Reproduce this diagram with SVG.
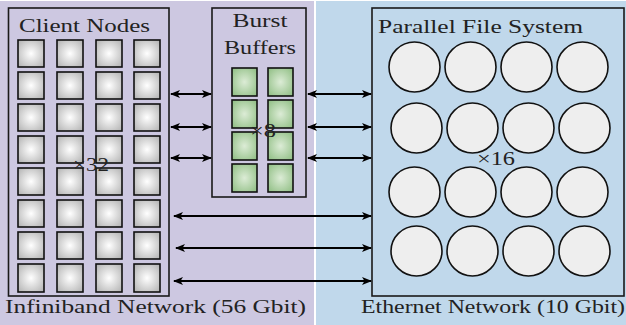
<svg xmlns="http://www.w3.org/2000/svg" width="626" height="325" viewBox="0 0 626 325">
<style>
text{font-family:"Times New Roman","Liberation Serif",serif;fill:#222;font-size:18px;}
.box{fill:none;stroke:#1a1a1a;stroke-width:1.6;}
.cn{fill:url(#gg);stroke:#111;stroke-width:1.6;}
.bb{fill:url(#gr);stroke:#111;stroke-width:1.6;}
.pf{fill:#eeeeee;stroke:#111;stroke-width:1.6;}
.ar{stroke:#000;stroke-width:2.2;fill:none;marker-start:url(#ah);marker-end:url(#ah);}
</style>
<defs>
<radialGradient id="gg" cx="0.5" cy="0.5" r="0.7">
<stop offset="0" stop-color="#ffffff"/><stop offset="1" stop-color="#b0b0b0"/>
</radialGradient>
<radialGradient id="gr" cx="0.5" cy="0.5" r="0.7">
<stop offset="0" stop-color="#dcecd6"/><stop offset="1" stop-color="#8cbc80"/>
</radialGradient>
<marker id="ah" viewBox="0 0 10 8" refX="9" refY="4" markerWidth="10" markerHeight="8" markerUnits="userSpaceOnUse" orient="auto-start-reverse">
<path d="M0,0 L10,4 L0,8 L2.5,4 Z" fill="#000"/>
</marker>
</defs>
<rect x="0" y="0" width="626" height="325" fill="#ffffff"/>
<rect x="0" y="1" width="314" height="324" fill="#cdc8e1"/>
<rect x="316" y="1" width="310" height="324" fill="#c0d8eb"/>

<g id="client-nodes">
<rect class="box" x="8.5" y="8" width="160.5" height="288"/>
<text x="19" y="32" textLength="131" lengthAdjust="spacingAndGlyphs">Client Nodes</text>
<g>
<rect class="cn" x="18" y="40" width="26" height="27"/><rect class="cn" x="57" y="40" width="26" height="27"/><rect class="cn" x="96" y="40" width="26" height="27"/><rect class="cn" x="134" y="40" width="26" height="27"/>
<rect class="cn" x="18" y="72" width="26" height="27"/><rect class="cn" x="57" y="72" width="26" height="27"/><rect class="cn" x="96" y="72" width="26" height="27"/><rect class="cn" x="134" y="72" width="26" height="27"/>
<rect class="cn" x="18" y="104" width="26" height="27"/><rect class="cn" x="57" y="104" width="26" height="27"/><rect class="cn" x="96" y="104" width="26" height="27"/><rect class="cn" x="134" y="104" width="26" height="27"/>
<rect class="cn" x="18" y="136" width="26" height="27"/><rect class="cn" x="57" y="136" width="26" height="27"/><rect class="cn" x="96" y="136" width="26" height="27"/><rect class="cn" x="134" y="136" width="26" height="27"/>
<rect class="cn" x="18" y="168" width="26" height="27"/><rect class="cn" x="57" y="168" width="26" height="27"/><rect class="cn" x="96" y="168" width="26" height="27"/><rect class="cn" x="134" y="168" width="26" height="27"/>
<rect class="cn" x="18" y="200" width="26" height="27"/><rect class="cn" x="57" y="200" width="26" height="27"/><rect class="cn" x="96" y="200" width="26" height="27"/><rect class="cn" x="134" y="200" width="26" height="27"/>
<rect class="cn" x="18" y="232" width="26" height="27"/><rect class="cn" x="57" y="232" width="26" height="27"/><rect class="cn" x="96" y="232" width="26" height="27"/><rect class="cn" x="134" y="232" width="26" height="27"/>
<rect class="cn" x="18" y="264" width="26" height="28"/><rect class="cn" x="57" y="264" width="26" height="28"/><rect class="cn" x="96" y="264" width="26" height="28"/><rect class="cn" x="134" y="264" width="26" height="28"/>
</g>
<text x="91" y="171" text-anchor="middle" textLength="36" lengthAdjust="spacingAndGlyphs">×32</text>
</g>

<g id="burst-buffers">
<rect class="box" x="212" y="8" width="94" height="189"/>
<text x="260" y="27" text-anchor="middle" textLength="55" lengthAdjust="spacingAndGlyphs">Burst</text>
<text x="260" y="54" text-anchor="middle" textLength="72" lengthAdjust="spacingAndGlyphs">Buffers</text>
<rect class="bb" x="232" y="68" width="25" height="28"/><rect class="bb" x="268" y="68" width="25" height="28"/>
<rect class="bb" x="232" y="100" width="25" height="28"/><rect class="bb" x="268" y="100" width="25" height="28"/>
<rect class="bb" x="232" y="132" width="25" height="28"/><rect class="bb" x="268" y="132" width="25" height="28"/>
<rect class="bb" x="232" y="164" width="25" height="28"/><rect class="bb" x="268" y="164" width="25" height="28"/>
<text x="263" y="137" text-anchor="middle" textLength="26" lengthAdjust="spacingAndGlyphs">×8</text>
</g>

<g id="parallel-file-system">
<rect class="box" x="372" y="8" width="252" height="288"/>
<text x="378" y="33" textLength="205" lengthAdjust="spacingAndGlyphs">Parallel File System</text>
<ellipse class="pf" cx="414.5" cy="67" rx="25.5" ry="25"/><ellipse class="pf" cx="470.5" cy="67" rx="25.5" ry="25"/><ellipse class="pf" cx="526.5" cy="67" rx="25.5" ry="25"/><ellipse class="pf" cx="582.5" cy="67" rx="25.5" ry="25"/>
<ellipse class="pf" cx="416.5" cy="128" rx="25.5" ry="25"/><ellipse class="pf" cx="472.5" cy="128" rx="25.5" ry="25"/><ellipse class="pf" cx="528.5" cy="128" rx="25.5" ry="25"/><ellipse class="pf" cx="584.5" cy="128" rx="25.5" ry="25"/>
<ellipse class="pf" cx="414.5" cy="192" rx="25.5" ry="25"/><ellipse class="pf" cx="470.5" cy="192" rx="25.5" ry="25"/><ellipse class="pf" cx="526.5" cy="192" rx="25.5" ry="25"/><ellipse class="pf" cx="582.5" cy="192" rx="25.5" ry="25"/>
<ellipse class="pf" cx="416.5" cy="251" rx="25.5" ry="25"/><ellipse class="pf" cx="472.5" cy="251" rx="25.5" ry="25"/><ellipse class="pf" cx="528.5" cy="251" rx="25.5" ry="25"/><ellipse class="pf" cx="584.5" cy="251" rx="25.5" ry="25"/>
<text x="496" y="165" text-anchor="middle" textLength="38" lengthAdjust="spacingAndGlyphs">×16</text>
</g>

<g id="connectors">
<line class="ar" x1="171" y1="94" x2="211" y2="94"/>
<line class="ar" x1="171" y1="127" x2="211" y2="127"/>
<line class="ar" x1="171" y1="158" x2="211" y2="158"/>
<line class="ar" x1="308" y1="94" x2="371" y2="94"/>
<line class="ar" x1="308" y1="127" x2="371" y2="127"/>
<line class="ar" x1="308" y1="158" x2="371" y2="158"/>
<line class="ar" x1="174" y1="216" x2="371" y2="216"/>
<line class="ar" x1="176" y1="248" x2="371" y2="248"/>
<line class="ar" x1="174" y1="281" x2="371" y2="281"/>
</g>

<g id="labels">
<text x="5" y="313" textLength="301" lengthAdjust="spacingAndGlyphs">Infiniband Network (56 Gbit)</text>
<text x="361" y="313" textLength="264" lengthAdjust="spacingAndGlyphs">Ethernet Network (10 Gbit)</text>
</g>
</svg>
